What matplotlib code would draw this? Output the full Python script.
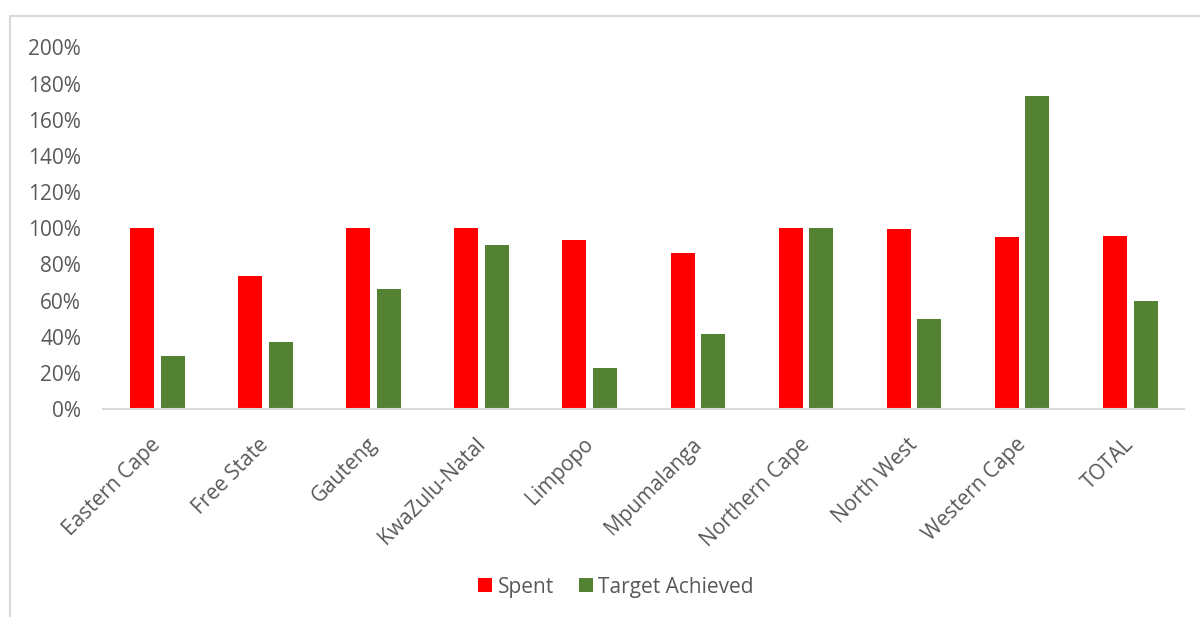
import numpy as np
import matplotlib.pyplot as plt
import matplotlib.transforms as mtransforms
from matplotlib.patches import Rectangle
from matplotlib.ticker import FuncFormatter

plt.rcParams['font.family'] = ['Open Sans', 'DejaVu Sans']

provinces = ['Eastern Cape', 'Free State', 'Gauteng', 'KwaZulu-Natal', 'Limpopo',
             'Mpumalanga', 'Northern Cape', 'North West', 'Western Cape', 'TOTAL']
spent = [100, 73.6, 100, 100, 93.4, 86.2, 100, 99.8, 95.2, 95.9]
target_achieved = [29.4, 37.2, 66.6, 90.9, 22.8, 41.6, 100, 49.9, 173.3, 59.7]
y_ticks = [0, 20, 40, 60, 80, 100, 120, 140, 160, 180, 200]

text_grey = '#595959'
line_grey = '#d9d9d9'
fs = 15

fig = plt.figure(figsize=(12, 6.17), dpi=100)

# light frame around the chart area
fig.patches.append(Rectangle((10 / 1200, -0.1), 1.2, 1 - 16 / 617 + 0.1,
                             transform=fig.transFigure, fill=False,
                             edgecolor=line_grey, linewidth=1.5))

ax = fig.add_axes([103.3 / 1200, 207.7 / 617, 1081 / 1200, 362 / 617])

x = np.arange(len(provinces))
w = 0.222
off = 0.1415
ax.bar(x - off, spent, w, color='#ff0000', label='Spent', linewidth=0)
ax.bar(x + off, target_achieved, w, color='#548235', label='Target Achieved', linewidth=0)

ax.set_xlim(-0.5, len(provinces) - 0.5)
ax.set_ylim(0, 200)
ax.set_yticks(y_ticks)
ax.yaxis.set_major_formatter(FuncFormatter(lambda v, p: f'{v:.0f}%'))
ax.tick_params(axis='y', length=0, pad=16, labelsize=fs, labelcolor=text_grey)

ax.set_xticks(x)
ax.set_xticklabels(provinces, rotation=45, ha='right', rotation_mode='anchor')
ax.tick_params(axis='x', length=0, pad=12, labelsize=fs, labelcolor=text_grey)
# nudge the slanted labels down and left a little
shift = mtransforms.ScaledTranslation(-7 / 100, -8 / 100, fig.dpi_scale_trans)
for lbl in ax.get_xticklabels():
    lbl.set_transform(lbl.get_transform() + shift)

for s in ['top', 'right', 'left']:
    ax.spines[s].set_visible(False)
ax.spines['bottom'].set_color(line_grey)
ax.spines['bottom'].set_linewidth(1.5)

fig.legend(loc='center', bbox_to_anchor=(616 / 1200, 1 - 587 / 617), ncol=2,
           frameon=False, fontsize=fs, labelcolor=text_grey, handlelength=0.67,
           handleheight=0.67, handletextpad=0.25, columnspacing=1.2)

fig.savefig('out.png', dpi=100)
